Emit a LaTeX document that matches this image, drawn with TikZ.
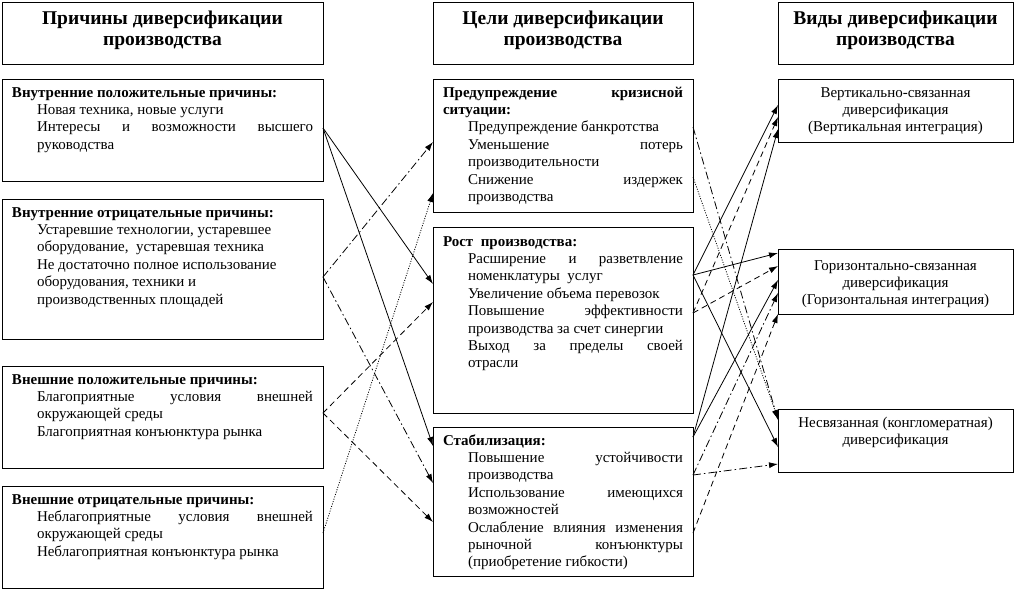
\documentclass[tikz,border=0pt]{standalone}
\usepackage{fontspec}
\setmainfont{Liberation Serif}
\usetikzlibrary{arrows.meta,positioning}

\newlength{\ind}
\setlength{\ind}{25pt}
% box text: width, height, first baseline, lines
\newcommand{\boxtext}[4]{\parbox[c][#2][t]{#1}{\rule{0pt}{#3}#4}}
\newcommand{\hdline}[1]{\mbox{\bfseries #1}\par}
\newcommand{\hdjust}[1]{\makebox[\linewidth][s]{\bfseries #1}\par}
\newcommand{\itemline}[1]{\hspace*{\ind}\mbox{#1}\par}
\newcommand{\itemjust}[1]{\hspace*{\ind}\makebox[\dimexpr\linewidth-\ind\relax][s]{#1}\par}

\begin{document}
\begin{tikzpicture}[x=1pt,y=-1pt,node distance=15pt,
	box/.style={draw,line width=1pt,outer sep=0pt,inner xsep=10pt,inner ysep=0pt,font=\fontsize{15}{17.4}\selectfont},
	head/.style={box,font=\fontsize{19.5}{21}\selectfont\bfseries},
	solidarr/.style={-{Latex[length=9pt,width=6pt]},line width=0.8pt},
	dasharr/.style={solidarr,dash pattern=on 6pt off 4pt},
	dashdotarr/.style={solidarr,dash pattern=on 8pt off 3pt on 1.5pt off 3pt},
	dotarr/.style={solidarr,dash pattern=on 1pt off 1.5pt}]

	\useasboundingbox (0,0) rectangle (1015,590);

	% headers
	\node[head,anchor=north west] (causes) at (2,2) {\boxtext{301pt}{62pt}{22pt}{\centering Причины диверсификации\\производства}};
	\node[head,anchor=north west] (goals) at (433,2) {\boxtext{240pt}{62pt}{22pt}{\centering Цели диверсификации\\производства}};
	\node[head,anchor=north west] (kinds) at (778,2) {\boxtext{215pt}{62pt}{22pt}{\centering Виды диверсификации\\производства}};

	% causes
	\node[box] (inpos) [below=of causes] {\boxtext{301pt}{102pt}{18pt}{%
		\hdline{Внутренние положительные причины:}
		\itemline{Новая техника, новые услуги}
		\itemjust{Интересы и возможности высшего}
		\itemline{руководства}}};
	\node[box] (inneg) [below=18pt of inpos] {\boxtext{301pt}{140pt}{18pt}{%
		\hdline{Внутренние отрицательные причины:}
		\itemline{Устаревшие технологии, устаревшее}
		\itemline{оборудование,\ \ устаревшая техника}
		\itemline{Не достаточно полное использование}
		\itemline{оборудования, техники и}
		\itemline{производственных площадей}}};
	\node[box] (expos) [below=27pt of inneg] {\boxtext{301pt}{102pt}{18pt}{%
		\hdline{Внешние положительные причины:}
		\itemjust{Благоприятные условия внешней}
		\itemline{окружающей среды}
		\itemline{Благоприятная конъюнктура рынка}}};
	\node[box] (exneg) [below=18pt of expos] {\boxtext{301pt}{102pt}{18pt}{%
		\hdline{Внешние отрицательные причины:}
		\itemjust{Неблагоприятные условия внешней}
		\itemline{окружающей среды}
		\itemline{Неблагоприятная конъюнктура рынка}}};

	% goals
	\node[box] (crisis) [below=of goals] {\boxtext{240pt}{133pt}{18pt}{%
		\hdjust{Предупреждение кризисной}
		\hdline{ситуации:}
		\itemline{Предупреждение банкротства}
		\itemjust{Уменьшение потерь}
		\itemline{производительности}
		\itemjust{Снижение издержек}
		\itemline{производства}}};
	\node[box] (growth) [below=of crisis] {\boxtext{240pt}{186pt}{19pt}{%
		\hdline{Рост\ \ производства:}
		\itemjust{Расширение и разветвление}
		\itemline{номенклатуры\ \ услуг}
		\itemline{Увеличение объема перевозок}
		\itemjust{Повышение эффективности}
		\itemline{производства за счет синергии}
		\itemjust{Выход за пределы своей}
		\itemline{отрасли}}};
	\node[box] (stab) [below=14pt of growth] {\boxtext{240pt}{149pt}{18pt}{%
		\hdline{Стабилизация:}
		\itemjust{Повышение устойчивости}
		\itemline{производства}
		\itemjust{Использование имеющихся}
		\itemline{возможностей}
		\itemjust{Ослабление влияния изменения}
		\itemjust{рыночной конъюнктуры}
		\itemline{(приобретение гибкости)}}};

	% kinds
	\node[box] (vert) [below=of kinds] {\boxtext{215pt}{63pt}{18pt}{\centering
		Вертикально-связанная\\диверсификация\\(Вертикальная интеграция)}};
	\node[box] (horiz) [below=107pt of vert] {\boxtext{215pt}{65pt}{21pt}{\centering
		Горизонтально-связанная\\диверсификация\\(Горизонтальная интеграция)}};
	\node[box] (congl) [below=95pt of horiz] {\boxtext{215pt}{63pt}{18pt}{\centering
		Несвязанная (конгломератная)\\диверсификация}};

	% causes -> goals
	\path
		([yshift=2pt]inpos.east) edge[solidarr] ([yshift=36pt]growth.west)
		                         edge[solidarr] ([yshift=55.5pt]stab.west)
		([yshift=-8pt]inneg.east) edge[dashdotarr] ([yshift=3.5pt]crisis.west)
		                          edge[dashdotarr] ([yshift=18.5pt]stab.west)
		([yshift=4pt]expos.east) edge[dasharr] ([yshift=18pt]growth.west)
		                         edge[dasharr] ([yshift=-20.5pt]stab.west)
		([yshift=4pt]exneg.east) edge[dotarr] ([yshift=-47.5pt]crisis.west);

	% goals -> kinds
	\path
		([yshift=18.5pt]crisis.east) edge[dashdotarr] ([yshift=20.5pt]congl.west)
		([yshift=-31.5pt]crisis.east) edge[dotarr] ([yshift=21.5pt]congl.west)
		([yshift=45pt]growth.east) edge[solidarr] ([yshift=5.5pt]vert.west)
		                           edge[solidarr] ([yshift=28.5pt]horiz.west)
		                           edge[solidarr] ([yshift=-6.5pt]congl.west)
		([yshift=7pt]growth.east) edge[dasharr] ([yshift=-6.5pt]vert.west)
		                          edge[dasharr] ([yshift=15.5pt]horiz.west)
		([yshift=64.5pt]stab.east) edge[solidarr] ([yshift=-18.5pt]vert.west)
		                           edge[solidarr] ([yshift=1.5pt]horiz.west)
		([yshift=26.5pt]stab.east) edge[dashdotarr] ([yshift=-11.5pt]horiz.west)
		                           edge[dashdotarr] ([yshift=-23.5pt]congl.west)
		([yshift=-31.5pt]stab.east) edge[dasharr] (horiz.south west);
\end{tikzpicture}
\end{document}
